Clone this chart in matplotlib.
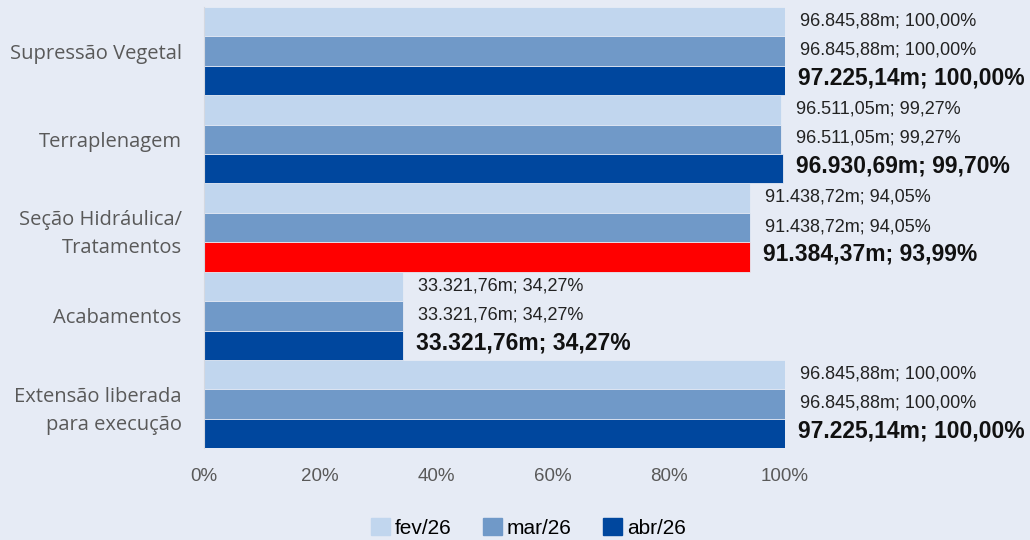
import matplotlib.pyplot as plt
import numpy as np
from matplotlib.patches import Patch

categorias = ["Supressão Vegetal", "Terraplenagem", "Seção Hidráulica/\nTratamentos",
              "Acabamentos", "Extensão liberada\npara execução"]
series = ["fev/26", "mar/26", "abr/26"]

pct_fev = [100.00, 99.27, 94.05, 34.27, 100.00]
pct_mar = [100.00, 99.27, 94.05, 34.27, 100.00]
pct_abr = [100.00, 99.70, 93.99, 34.27, 100.00]

metros_fev = ["96.845,88", "96.511,05", "91.438,72", "33.321,76", "96.845,88"]
metros_mar = ["96.845,88", "96.511,05", "91.438,72", "33.321,76", "96.845,88"]
metros_abr = ["97.225,14", "96.930,69", "91.384,37", "33.321,76", "97.225,14"]

COR_FEV = "#C1D6EE"
COR_MAR = "#7099C8"
COR_ABR = "#00479E"
COR_ALERTA = "#FF0000"
FUNDO = "#E6EBF5"

ARIAL = ["Liberation Sans", "DejaVu Sans"]

plt.rcParams["font.family"] = ["Open Sans", "DejaVu Sans"]

fig = plt.figure(figsize=(10.3, 5.4), dpi=100, facecolor=FUNDO)
ax = fig.add_axes([0.198, 0.170, 0.564, 0.817], facecolor=FUNDO)

n = len(categorias)
h = 1.0 / 3
y = np.arange(n)

dados = [(pct_fev, metros_fev, COR_FEV), (pct_mar, metros_mar, COR_MAR), (pct_abr, metros_abr, COR_ABR)]
for i, (pct, metros, cor) in enumerate(dados):
    pos = y + (i - 1) * h
    cores = [cor] * n
    if i == 2:
        cores[2] = COR_ALERTA  # Seção Hidráulica em atraso
    ax.barh(pos, pct, height=h, color=cores, edgecolor=FUNDO, linewidth=0.6)
    for p, v, m in zip(pos, pct, metros):
        txt = f"{m}m; " + f"{v:.2f}".replace(".", ",") + "%"
        if i == 2:
            ax.text(v + 2.3, p - 0.03, txt, va="center", ha="left", fontsize=16.5,
                    fontweight="bold", color="#111111", family=ARIAL)
        else:
            ax.text(v + 2.6, p - 0.01, txt, va="center", ha="left", fontsize=13,
                    color="#222222", family=ARIAL)

ax.set_ylim(n - 0.5, -0.5)
ax.set_xlim(0, 100)
ax.set_yticks(y)
ax.set_yticklabels(categorias, fontsize=14.5, color="#595959", linespacing=1.55)
ax.set_xticks(np.arange(0, 101, 20))
ax.set_xticklabels([f"{t}%" for t in range(0, 101, 20)], fontsize=13.5, color="#595959",
                   family=ARIAL)
ax.tick_params(length=0, pad=14, axis="x")
ax.tick_params(length=0, pad=16, axis="y")
for s in ["top", "right", "bottom"]:
    ax.spines[s].set_visible(False)
ax.spines["left"].set_color("#D4D8E0")
ax.spines["left"].set_linewidth(0.8)

handles = [Patch(color=COR_FEV), Patch(color=COR_MAR), Patch(color=COR_ABR)]
fig.legend(handles, series, loc="center", bbox_to_anchor=(0.513, 0.022), ncol=3,
           frameon=False, handlelength=0.9, handleheight=0.9,
           handletextpad=0.25, columnspacing=1.5,
           prop={"family": ARIAL, "size": 15})

fig.savefig("out.png", dpi=100, facecolor=FUNDO)
